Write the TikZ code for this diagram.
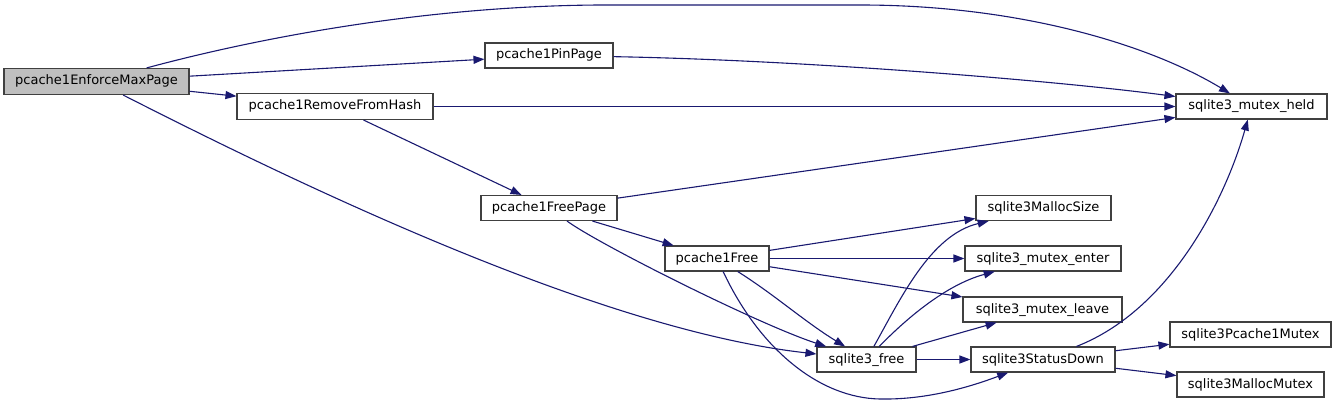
\documentclass[tikz,border=0pt]{standalone}
\usepackage{fontspec}
\setmainfont{DejaVu Sans}
\usetikzlibrary{arrows.meta}
\definecolor{edgec}{RGB}{25,25,112}
\definecolor{boxc}{RGB}{64,64,64}
\definecolor{hlc}{RGB}{191,191,191}
\tikzset{
  fn/.style={draw=boxc, line width=1.1pt, fill=white, rectangle, inner sep=0pt,
    minimum height=25pt, text height=10pt, text depth=3pt,
    font=\fontsize{13}{15}\selectfont},
  call/.style={draw=edgec, line width=1.1pt, -{Triangle[length=11pt,width=8pt]}},
}
\begin{document}
\begin{tikzpicture}[x=1pt,y=-1pt]
\useasboundingbox (0,0) rectangle (1336,406);
% nodes
\node[fn, fill=hlc, minimum width=185pt, minimum height=26pt] (enf) at (96.5,81.5) {pcache1EnforceMaxPage};
\node[fn, minimum width=196pt, minimum height=26pt] (rfh) at (335,106.5) {pcache1RemoveFromHash};
\node[fn, minimum width=128pt] (pin) at (549,55.5) {pcache1PinPage};
\node[fn, minimum width=136pt] (fpg) at (549,208) {pcache1FreePage};
\node[fn, minimum width=104pt] (pfr) at (717,258.5) {pcache1Free};
\node[fn, minimum width=135pt] (msz) at (1043.5,208) {sqlite3MallocSize};
\node[fn, minimum width=156pt] (men) at (1043,258.5) {sqlite3\_mutex\_enter};
\node[fn, minimum width=159pt] (mlv) at (1042.5,309.5) {sqlite3\_mutex\_leave};
\node[fn, minimum width=151pt] (held) at (1251.5,106.5) {sqlite3\_mutex\_held};
\node[fn, minimum width=161pt] (pcm) at (1250.5,334.5) {sqlite3Pcache1Mutex};
\node[fn, minimum width=147pt] (mmx) at (1250.5,384.5) {sqlite3MallocMutex};
\node[fn, minimum width=144pt] (sdn) at (1043,359.5) {sqlite3StatusDown};
\node[fn, minimum width=99pt] (sfr) at (866.5,359.5) {sqlite3\_free};
% edges
\draw[call] (enf) .. controls (250,40) and (420,6) .. (600,5) -- (860,5) .. controls (1020,5) and (1150,45) .. (held);
\draw[call] (enf) -- (pin);
\draw[call] (enf) -- (rfh);
\draw[call] (enf) .. controls (300,185) and (600,330) .. (sfr);
\draw[call] (rfh) -- (held);
\draw[call] (rfh) -- (fpg);
\draw[call] (pin) .. controls (800,60) and (1050,80) .. (held);
\draw[call] (fpg) -- (held);
\draw[call] (fpg) -- (pfr);
\draw[call] (fpg) .. controls (600,245) and (760,325) .. (sfr);
\draw[call] (pfr) -- (msz);
\draw[call] (pfr) -- (men);
\draw[call] (pfr) -- (mlv);
\draw[call] (pfr) .. controls (775,295) and (805,322) .. (sfr);
\draw[call] (pfr) .. controls (760,350) and (820,398) .. (880,399) .. controls (930,400) and (975,385) .. (sdn);
\draw[call] (sfr) .. controls (900,300) and (930,235) .. (msz);
\draw[call] (sfr) .. controls (905,320) and (945,285) .. (men);
\draw[call] (sfr) -- (mlv);
\draw[call] (sfr) -- (sdn);
\draw[call] (sdn) .. controls (1170,310) and (1225,200) .. (held);
\draw[call] (sdn) -- (pcm);
\draw[call] (sdn) -- (mmx);
\end{tikzpicture}
\end{document}
